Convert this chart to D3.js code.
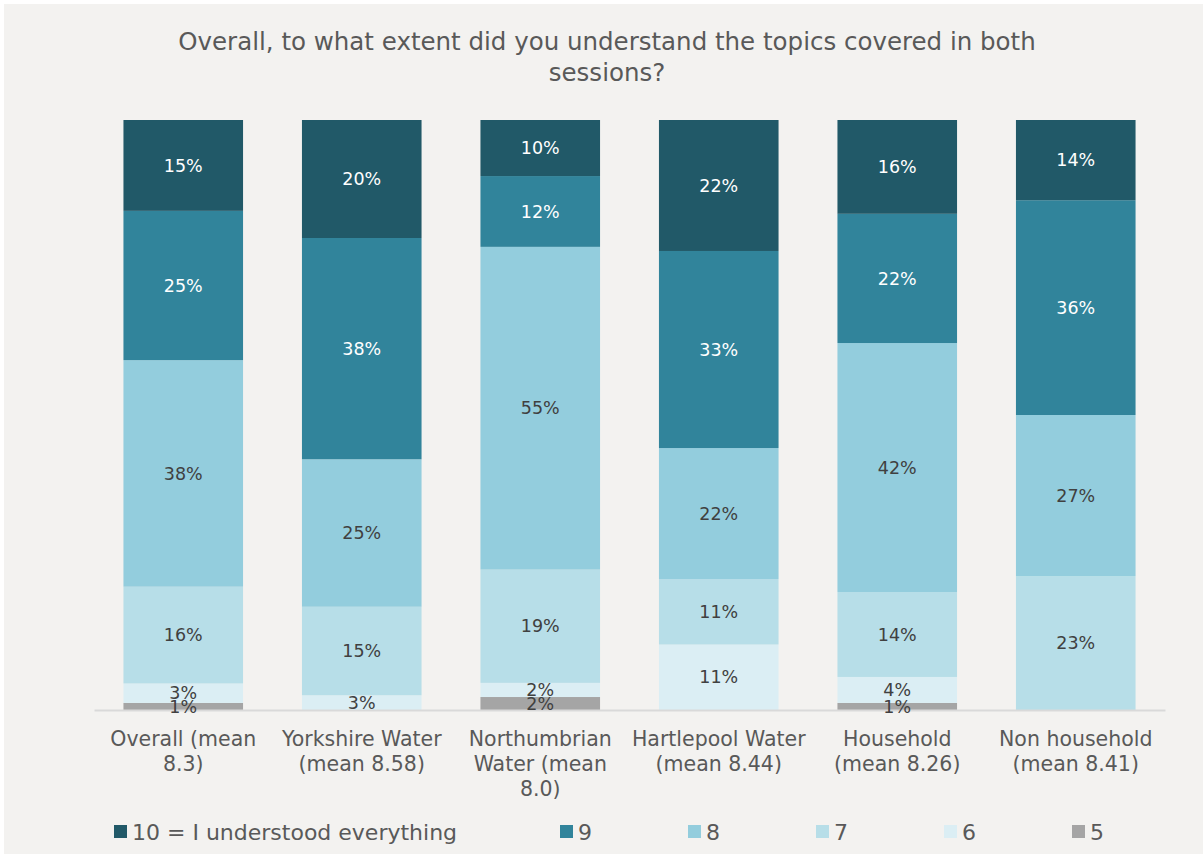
<!DOCTYPE html>
<html>
<head>
<meta charset="utf-8">
<script src="https://cdn.jsdelivr.net/npm/d3@7"></script>
<style>
  body { margin: 0; background: #ffffff; }
  svg { display: block; }
</style>
</head>
<body>
<div id="chart"></div>
<script>
// categories (each label split into its display lines)
var categories = ["Overall", "Yorkshire", "Northumbrian", "Hartlepool", "Household", "Non household"];
var categoryLines = [
    ["Overall (mean", "8.3)"],
    ["Yorkshire Water", "(mean 8.58)"],
    ["Northumbrian", "Water (mean", "8.0)"],
    ["Hartlepool Water", "(mean 8.44)"],
    ["Household", "(mean 8.26)"],
    ["Non household", "(mean 8.41)"]
];

// series, bottom of the stack first (percent of respondents)
var keys = ["5", "6", "7", "8", "9", "10"];
var legendNames = ["10 = I understood everything", "9", "8", "7", "6", "5"];
var score5  = [1.2, 0,    2.2,  0,    1.2,  0];
var score6  = [3.3, 2.5,  2.4,  11.1, 4.4,  0];
var score7  = [16.4, 15.0, 19.2, 11.1, 14.4, 22.7];
var score8  = [38.4, 25.0, 54.7, 22.2, 42.2, 27.3];
var score9  = [25.3, 37.5, 12.0, 33.4, 21.9, 36.4];
var score10 = [15.4, 20.0, 9.5,  22.2, 15.9, 13.6];

var title = ["Overall, to what extent did you understand the topics covered in both", "sessions?"];

var width = 1203, height = 854;
var fontFam = "'DejaVu Sans', sans-serif";

var svg = d3.select("#chart")
    .append("svg")
    .attr("width", width)
    .attr("height", height);

// chart background
svg.append("rect")
    .attr("x", 4).attr("y", 4)
    .attr("width", width - 4).attr("height", height - 4)
    .attr("fill", "#f3f2f0");

// build rows for the stack
var data = categories.map(function (c, i) {
    return {
        cat: c,
        "5": score5[i], "6": score6[i], "7": score7[i],
        "8": score8[i], "9": score9[i], "10": score10[i]
    };
});

var stackedData = d3.stack().keys(keys)(data);

var color = d3.scaleOrdinal()
    .domain(keys)
    .range(["#a5a5a5", "#dbeef4", "#b7dee8", "#93cddd", "#31849b", "#215968"]);

var labelColor = d3.scaleOrdinal()
    .domain(keys)
    .range(["#404040", "#404040", "#404040", "#404040", "#ffffff", "#ffffff"]);

var x = d3.scaleBand()
    .domain(categories)
    .range([94, 1165])
    .paddingInner(0.33)
    .paddingOuter(0.165);

var y = d3.scaleLinear()
    .domain([0, 100])
    .range([710, 120]);

// title
svg.append("g").selectAll("text")
    .data(title)
    .enter()
    .append("text")
    .attr("x", 607)
    .attr("y", function (d, i) { return 50 + i * 31; })
    .attr("text-anchor", "middle")
    .style("font-family", fontFam)
    .style("font-size", "24.5px")
    .style("fill", "#595959")
    .text(function (d) { return d; });

// bars
var layers = svg.append("g")
    .selectAll("g")
    .data(stackedData)
    .enter()
    .append("g")
    .attr("fill", function (d) { return color(d.key); });

layers.selectAll("rect")
    .data(function (d) { return d; })
    .enter()
    .append("rect")
    .attr("x", function (d) { return x(d.data.cat); })
    .attr("y", function (d) { return y(d[1]); })
    .attr("height", function (d) { return y(d[0]) - y(d[1]); })
    .attr("width", x.bandwidth());

// axis line
svg.append("g")
    .attr("transform", "translate(0,710)")
    .call(d3.axisBottom(x).tickSize(0).tickFormat(""))
    .call(function (g) {
        g.select(".domain").attr("stroke", "#d9d9d9").attr("stroke-width", 2);
    });

// data labels, drawn above every bar
var labelLayer = svg.append("g");
stackedData.forEach(function (s) {
    labelLayer.append("g")
        .selectAll("text")
        .data(s.filter(function (d) { return d[1] - d[0] > 0; }))
        .enter()
        .append("text")
        .attr("x", function (d) { return x(d.data.cat) + x.bandwidth() / 2; })
        .attr("y", function (d) { return (y(d[0]) + y(d[1])) / 2; })
        .attr("dy", "0.35em")
        .attr("text-anchor", "middle")
        .style("font-family", fontFam)
        .style("font-size", "17.5px")
        .style("fill", labelColor(s.key))
        .text(function (d) { return Math.round(d[1] - d[0]) + "%"; });
});

// category labels
var catLabels = svg.append("g")
    .selectAll("text")
    .data(categories)
    .enter()
    .append("text")
    .attr("x", function (d) { return x(d) + x.bandwidth() / 2; })
    .attr("y", 746)
    .attr("text-anchor", "middle")
    .style("font-family", fontFam)
    .style("font-size", "20.5px")
    .style("fill", "#595959");

catLabels.selectAll("tspan")
    .data(function (d, i) { return categoryLines[i]; })
    .enter()
    .append("tspan")
    .attr("x", function () { return d3.select(this.parentNode).attr("x"); })
    .attr("dy", function (d, i) { return i === 0 ? 0 : 25; })
    .text(function (d) { return d; });

// legend
var legendKeys = keys.slice().reverse();
var legend = svg.append("g")
    .selectAll("g")
    .data(legendKeys)
    .enter()
    .append("g")
    .attr("transform", function (d, i) {
        var lx = i === 0 ? 114 : 560 + (i - 1) * 128;
        return "translate(" + lx + ",832)";
    });

legend.append("rect")
    .attr("x", 0).attr("y", -7)
    .attr("width", 13).attr("height", 13)
    .attr("fill", function (d) { return color(d); });

legend.append("text")
    .attr("x", 18)
    .attr("dy", "0.35em")
    .style("font-family", fontFam)
    .style("font-size", "22px")
    .style("fill", "#595959")
    .text(function (d, i) { return legendNames[i]; });
</script>
</body>
</html>
